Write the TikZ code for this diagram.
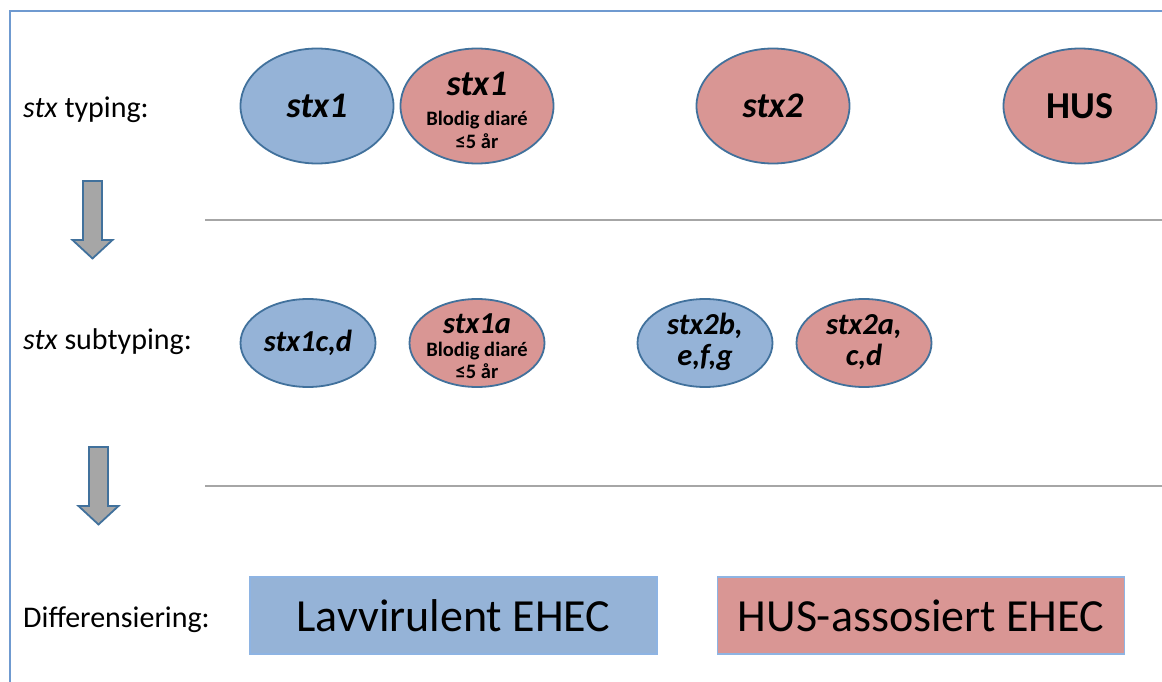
\documentclass[tikz,border=0pt]{standalone}
\usepackage{fontspec}
\setmainfont{Carlito}
\usetikzlibrary{shapes.geometric}
\definecolor{lowblue}{HTML}{95B3D7}
\definecolor{husred}{HTML}{D99694}
\definecolor{edgeblue}{HTML}{41719C}
\definecolor{framebl}{HTML}{6F9AD0}
\definecolor{boxedge}{HTML}{8EB4E3}
\definecolor{rulegray}{HTML}{A6A6A6}
\newcommand{\ptsize}[1]{\fontsize{#1pt}{#1pt}\selectfont}
\tikzset{
  stxell/.style={ellipse, draw=edgeblue, line width=1.8pt, inner sep=0pt},
  bigell/.style={stxell, minimum width=153pt, minimum height=115pt,
    font=\ptsize{36}\bfseries\itshape},
  smallell/.style={stxell, minimum width=135pt, minimum height=88pt,
    font=\ptsize{30.5}\bfseries\itshape},
  rowlabel/.style={anchor=base west, inner sep=0pt, font=\ptsize{30}},
  line/.style={anchor=base, inner sep=0pt},
  noteline/.style={line, font=\ptsize{20.5}\bfseries},
  verdict/.style={rectangle, draw=boxedge, line width=1.5pt, inner sep=0pt,
    minimum width=407pt, minimum height=77pt, font=\ptsize{46}},
  blockarrow/.style={draw=edgeblue, fill=rulegray, line width=1.8pt, line join=miter},
  divider/.style={draw=rulegray, line width=2.5pt},
}
\begin{document}
\begin{tikzpicture}[x=1pt, y=-1pt]
\useasboundingbox (0,0) rectangle (1162,682);
% frame
\draw[framebl, line width=1.5pt] (1162,11) -- (10,11) -- (10,682);
% row labels
\node (lbtyping) [rowlabel] at (23,118) {\textit{stx} typing:};
\node (lbsubtyping) [rowlabel] at (23,349) {\textit{stx} subtyping:};
\node (lbdiff) [rowlabel] at (23,627) {Differensiering:};
% stx typing
\node (t1blue) [bigell, fill=lowblue] at (317,106) {stx1};
\node (t1red) [stxell, fill=husred, minimum width=153pt, minimum height=115pt] at (477,106) {};
\node (t1redname) [line, font=\ptsize{36}\bfseries\itshape] at (477,96) {stx1};
\node (t1redbld) [noteline] at (477,126) {Blodig diaré};
\node (t1redage) [noteline] at (477,149) {≤5 år};
\node (t2) [bigell, fill=husred] at (773,106) {stx2};
\node (thus) [bigell, fill=husred, font=\ptsize{38}\bfseries] at (1080,106) {HUS};
% dividers
\draw[divider] (205,220) -- (1162,220);
\draw[divider] (205,486) -- (1162,486);
% arrows
\foreach \ax/\ay in {92.5/181, 98.5/447}
  \draw[blockarrow] (\ax-9.5,\ay) -- ++(19,0) -- ++(0,59) -- ++(10.5,0)
    -- ++(-20,18.5) -- ++(-20,-18.5) -- ++(10.5,0) -- cycle;
% stx subtyping
\node (s1cd) [smallell, fill=lowblue] at (308,343) {stx1c,d};
\node (s1a) [stxell, fill=husred, minimum width=135pt, minimum height=88pt] at (477,343) {};
\node (s1aname) [line, font=\ptsize{30.5}\bfseries\itshape] at (477,333) {stx1a};
\node (s1abld) [noteline] at (477,356) {Blodig diaré};
\node (s1aage) [noteline] at (477,378) {≤5 år};
\node (s2b) [stxell, fill=lowblue, minimum width=135pt, minimum height=88pt] at (705,343) {};
\node (s2bone) [line, font=\ptsize{30.5}\bfseries\itshape] at (705,334) {stx2b,};
\node (s2btwo) [line, font=\ptsize{30.5}\bfseries\itshape] at (705,365) {e,f,g};
\node (s2a) [stxell, fill=husred, minimum width=135pt, minimum height=88pt] at (864,343) {};
\node (s2aone) [line, font=\ptsize{30.5}\bfseries\itshape] at (864,334) {stx2a,};
\node (s2atwo) [line, font=\ptsize{30.5}\bfseries\itshape] at (864,365) {c,d};
% differensiering
\node (lowvir) [verdict, fill=lowblue] at (453.5,615.5) {Lavvirulent EHEC};
\node (husass) [verdict, fill=husred] at (921,615.5) {HUS-assosiert EHEC};
\end{tikzpicture}
\end{document}
